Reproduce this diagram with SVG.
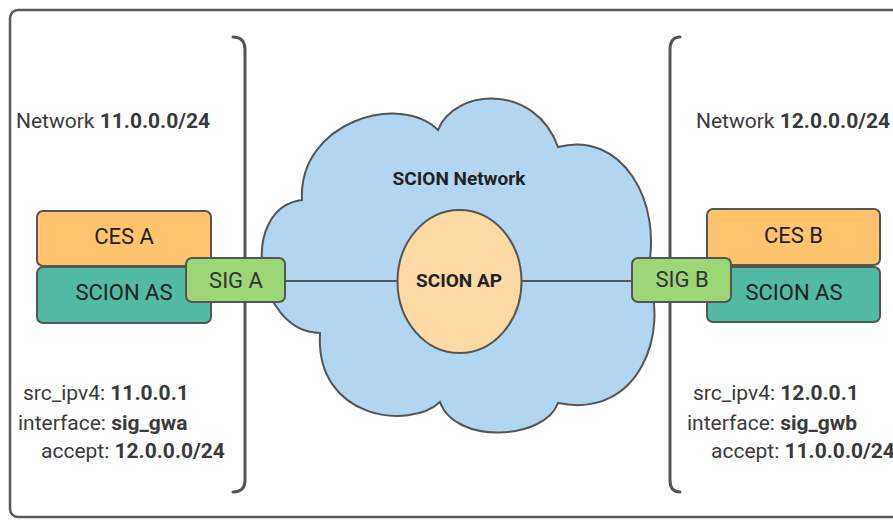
<svg xmlns="http://www.w3.org/2000/svg" width="893" height="520" viewBox="0 0 893 520">
<style>
.frame{fill:#fff;stroke:#5a5a5a;stroke-width:2.5}
.br{fill:none;stroke:#555;stroke-width:3;stroke-linecap:round}
.box{stroke:#555;stroke-width:2}
.ces{fill:#FFC36E}
.as{fill:#52B9A2}
.sig{fill:#9CD676}
.t{font-family:Roboto,"Liberation Sans",sans-serif;font-size:22px;fill:#222}
.s{font-size:21px}
.g{fill:#3a3a3a}
.b{font-weight:bold}
.m{text-anchor:middle}
.conn{stroke:#555;stroke-width:2}
</style>
<rect class="frame" x="10" y="10" width="900" height="507" rx="8"/>
<path class="br" d="M233,37 Q245,37 245,50 L245,480 Q245,492 233,492"/>
<path class="br" d="M680,37 Q670,37 670,50 L670,480 Q670,492 680,492"/>
<g id="cloud">
<path d="M302,200 C298,122 400,92 438,130 C455,88 535,83 558,147 C620,130 665,200 647,275 C670,330 640,420 558,403 C545,440 455,445 440,402 C410,430 315,420 320,333 C255,332 238,208 302,200 Z" fill="#B3D6F0" stroke="#555" stroke-width="2"/>
<text class="t b m" x="459" y="185" style="font-size:19px">SCION Network</text>
</g>
<g id="connectors">
<line class="conn" x1="285" y1="281" x2="397" y2="281"/>
<line class="conn" x1="522" y1="281" x2="632" y2="281"/>
</g>
<g id="scion-ap">
<ellipse cx="459.5" cy="281.5" rx="62" ry="71.5" fill="#FDD9A4" stroke="#555" stroke-width="2"/>
<text class="t b m" x="459" y="287" style="font-size:19px">SCION AP</text>
</g>
<g id="net-a-label">
<text class="t s g" x="16" y="128">Network <tspan class="b">11.0.0.0/24</tspan></text>
</g>
<g id="ces-a">
<rect class="box ces" x="37" y="211" width="174" height="55" rx="6"/>
<text class="t m" x="124" y="244">CES A</text>
</g>
<g id="scion-as-a">
<rect class="box as" x="37" y="267" width="174" height="56" rx="6"/>
<text class="t m" x="124" y="300">SCION AS</text>
</g>
<g id="sig-a">
<rect class="box sig" x="186" y="258" width="99" height="44" rx="6"/>
<text class="t m" x="236" y="288" style="fill:#333">SIG A</text>
</g>
<g id="cfg-a">
<text class="t s g" x="23" y="400">src_ipv4: <tspan class="b">11.0.0.1</tspan></text>
<text class="t s g" x="18" y="430">interface: <tspan class="b">sig_gwa</tspan></text>
<text class="t s g" x="41" y="458">accept: <tspan class="b">12.0.0.0/24</tspan></text>
</g>
<g id="net-b-label">
<text class="t s g" x="696" y="128">Network <tspan class="b">12.0.0.0/24</tspan></text>
</g>
<g id="ces-b">
<rect class="box ces" x="707" y="209" width="173" height="56" rx="6"/>
<text class="t m" x="793.5" y="243">CES B</text>
</g>
<g id="scion-as-b">
<rect class="box as" x="707" y="267" width="173" height="55" rx="6"/>
<text class="t m" x="794" y="300">SCION AS</text>
</g>
<g id="sig-b">
<rect class="box sig" x="632" y="258" width="99" height="44" rx="6"/>
<text class="t m" x="682" y="287" style="fill:#333">SIG B</text>
</g>
<g id="cfg-b">
<text class="t s g" x="693" y="400">src_ipv4: <tspan class="b">12.0.0.1</tspan></text>
<text class="t s g" x="687" y="430">interface: <tspan class="b">sig_gwb</tspan></text>
<text class="t s g" x="711" y="458">accept: <tspan class="b">11.0.0.0/24</tspan></text>
</g>
</svg>
